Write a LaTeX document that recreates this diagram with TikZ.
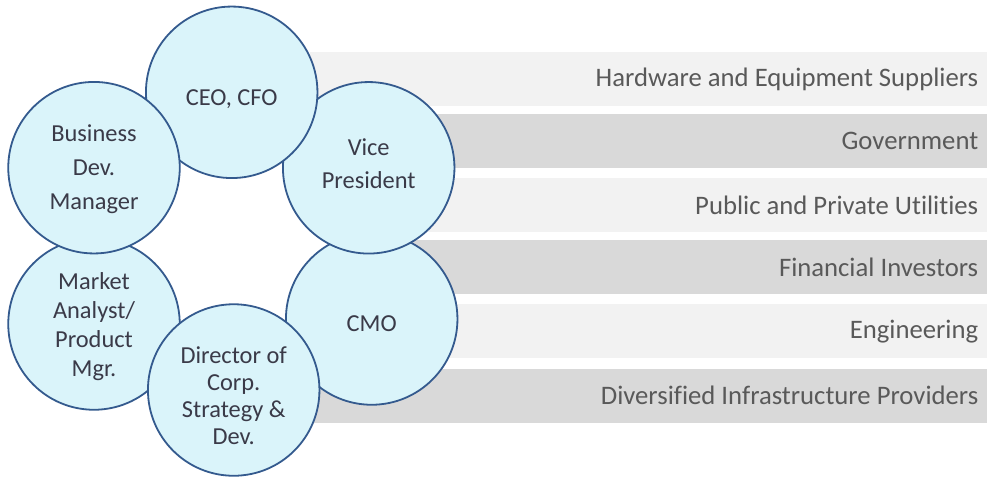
\documentclass[tikz,border=0pt]{standalone}
\usepackage{fontspec}
\setmainfont{Carlito}[Ligatures=CommonOff]
\definecolor{barA}{HTML}{F2F2F2}
\definecolor{barB}{HTML}{D9D9D9}
\definecolor{bartext}{HTML}{595959}
\definecolor{circfill}{HTML}{DAF4FA}
\definecolor{circline}{HTML}{345A8E}
\definecolor{circtext}{HTML}{3A3A48}
\tikzset{
  barbox/.style={fill=#1, draw=none, minimum width=677pt, minimum height=54pt, anchor=north west, inner sep=0},
  bartxt/.style={anchor=east, text=bartext, font=\fontsize{26.7}{30}\selectfont, inner sep=0},
  circ/.style={circle, fill=circfill, draw=circline, line width=1.8pt, minimum size=171.5pt, inner sep=0},
  ctext/.style={text=circtext, font=\fontsize{24.4}{28}\selectfont, align=center, inner sep=0},
}
\begin{document}
\begin{tikzpicture}[x=1pt,y=-1pt]
\useasboundingbox (0,0) rectangle (987,477);
% bars
\node[barbox=barA] (b1) at (310,52) {};
\node[barbox=barB] (b2) at (310,114) {};
\node[barbox=barA] (b3) at (310,178) {};
\node[barbox=barB, minimum width=652pt] (b4) at (335,240) {};
\node[barbox=barA] (b5) at (310,304) {};
\node[barbox=barB] (b6) at (310,368.5) {};
\node[bartxt] (t1) at ([xshift=-9pt]b1.east) {Hardware and Equipment Suppliers};
\node[bartxt] (t2) at ([xshift=-9pt]b2.east) {Government};
\node[bartxt] (t3) at ([xshift=-9pt]b3.east) {Public and Private Utilities};
\node[bartxt] (t4) at ([xshift=-9pt]b4.east) {Financial Investors};
\node[bartxt] (t5) at ([xshift=-9pt]b5.east) {Engineering};
\node[bartxt] (t6) at ([xshift=-9pt]b6.east) {Diversified Infrastructure Providers};
% circles (stacking order matters)
\node[circ] (cmo) at (371.7,319) {};
\node[circ] (vp) at (368.7,167.8) {};
\node[circ] (ceo) at (231.7,92.3) {};
\node[circ] (mkt) at (94,324) {};
\node[circ] (bus) at (94,167.7) {};
\node[circ] (dir) at (233.7,390) {};
% texts
\node[ctext] (ceoT) at ([yshift=-7pt]ceo.center) {CEO, CFO};
\node[ctext, font=\fontsize{24.4}{33}\selectfont] (vpT) at ([yshift=4pt]vp.center) {Vice\\President};
\node[ctext, font=\fontsize{24.4}{34}\selectfont] (busT) at ([yshift=-1pt]bus.center) {Business\\Dev.\\Manager};
\node[ctext, font=\fontsize{24.4}{29}\selectfont] (mktT) at ([yshift=-3pt]mkt.center) {Market\\Analyst/\\Product\\Mgr.};
\node[ctext] (cmoT) at ([yshift=-5pt]cmo.center) {CMO};
\node[ctext, font=\fontsize{24.4}{27}\selectfont] (dirT) at ([yshift=-5.5pt]dir.center) {Director of\\Corp.\\Strategy \&\\Dev.};
\end{tikzpicture}
\end{document}
